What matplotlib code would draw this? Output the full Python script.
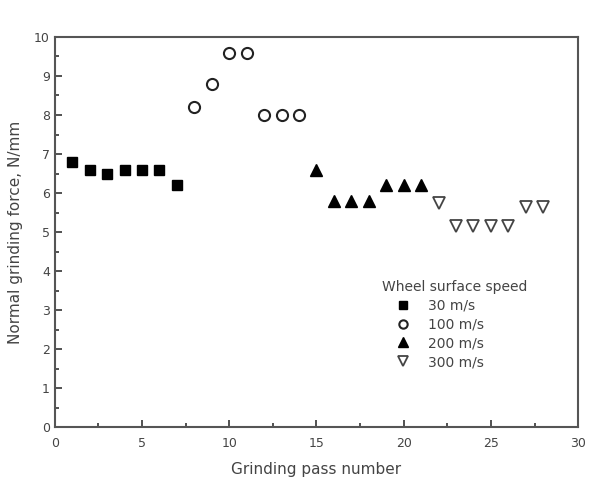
import matplotlib.pyplot as plt
from matplotlib.ticker import MultipleLocator

# grinding pass numbers and normal force per wheel speed
pass_30 = [1, 2, 3, 4, 5, 6, 7]
force_30 = [6.8, 6.6, 6.5, 6.6, 6.6, 6.6, 6.2]
pass_100 = [8, 9, 10, 11, 12, 13, 14]
force_100 = [8.2, 8.8, 9.6, 9.6, 8.0, 8.0, 8.0]
pass_200 = [15, 16, 17, 18, 19, 20, 21]
force_200 = [6.6, 5.8, 5.8, 5.8, 6.2, 6.2, 6.2]
pass_300 = [22, 23, 24, 25, 26, 27, 28]
force_300 = [5.75, 5.15, 5.15, 5.15, 5.15, 5.65, 5.65]

TXT = '#444444'

fig = plt.figure(figsize=(5.96, 4.8), dpi=100)
ax = fig.add_axes([0.092, 0.110, 0.878, 0.813])

ax.plot(pass_30, force_30, 's', color='black', ms=7, label='30 m/s')
ax.plot(pass_100, force_100, 'o', mfc='white', mec='#222222', mew=1.5, ms=8, label='100 m/s')
ax.plot(pass_200, force_200, '^', color='black', ms=9, label='200 m/s')
ax.plot(pass_300, force_300, 'v', mfc='white', mec='#444444', mew=1.3, ms=9, label='300 m/s')

ax.set_xlim(0, 30)
ax.set_ylim(0, 10)
ax.xaxis.set_major_locator(MultipleLocator(5))
ax.xaxis.set_minor_locator(MultipleLocator(2.5))
ax.yaxis.set_major_locator(MultipleLocator(1))
ax.yaxis.set_minor_locator(MultipleLocator(0.5))
ax.tick_params(which='both', direction='in', top=False, right=False, colors='#333333', labelcolor=TXT, labelsize=9)
ax.tick_params(axis='x', pad=7)
ax.tick_params(which='major', length=5, width=1.2)
ax.tick_params(which='minor', length=3, width=1.2)
for s in ax.spines.values():
    s.set_color('#555555')
    s.set_linewidth(1.5)

ax.set_xlabel('Grinding pass number', fontsize=11, color=TXT, labelpad=9)
ax.set_ylabel('Normal grinding force, N/mm', fontsize=11, color=TXT, labelpad=8)

leg = ax.legend(title='Wheel surface speed', loc='upper left', bbox_to_anchor=(0.625, 0.378),
                frameon=False, fontsize=10, title_fontsize=10, markerscale=0.75,
                handlelength=3.0, handletextpad=0.3, labelspacing=0.35, borderaxespad=0,
                borderpad=0)
leg._legend_box.align = 'left'
for t in leg.get_texts():
    t.set_color(TXT)
leg.get_title().set_color(TXT)

fig.savefig('out.png', dpi=100)
